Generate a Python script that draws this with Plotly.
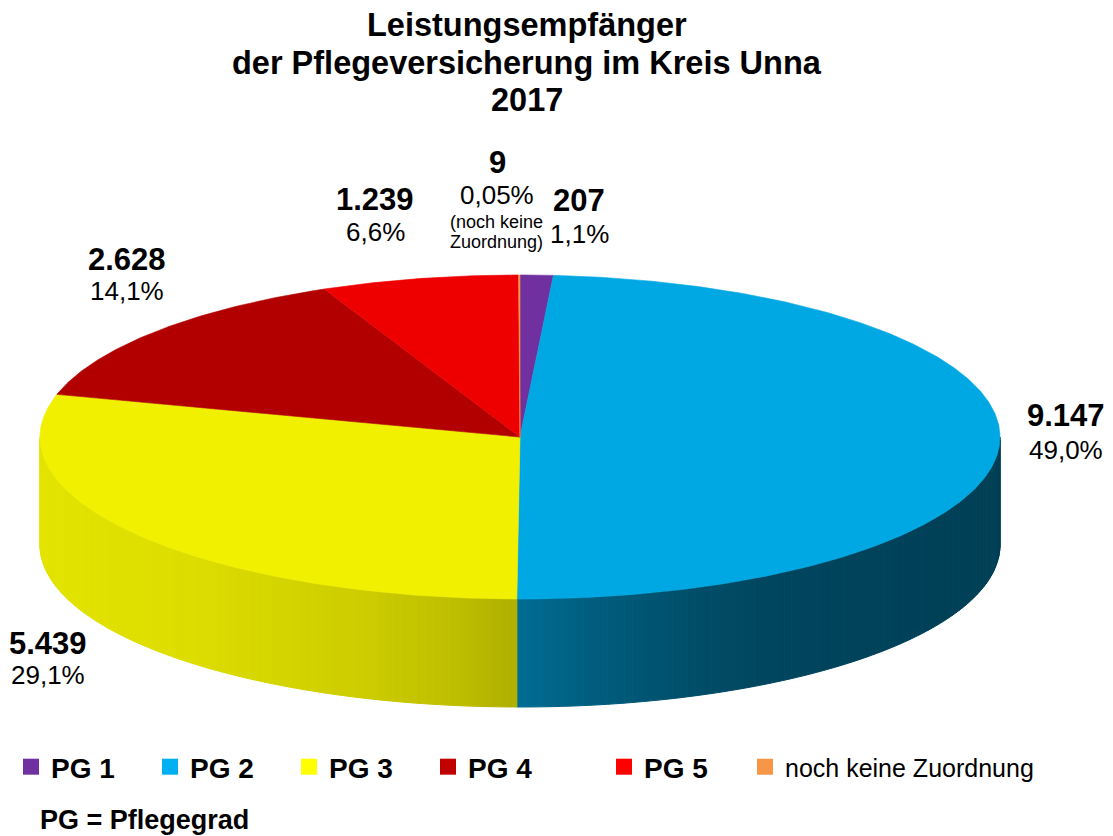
import numpy as np
import plotly.graph_objects as go

# ---------------- data ----------------
categories = ["PG 1", "PG 2", "PG 3", "PG 4", "PG 5", "noch keine Zuordnung"]
values = [207, 9147, 5439, 2628, 1239, 9]
value_labels = ["207", "9.147", "5.439", "2.628", "1.239", "9"]
percent_labels = ["1,1%", "49,0%", "29,1%", "14,1%", "6,6%", "0,05%"]
title_lines = ["Leistungsempfänger", "der Pflegeversicherung im Kreis Unna", "2017"]
footnote = "PG = Pflegegrad"
unassigned_note = ["(noch keine", "Zuordnung)"]

# ---------------- style ----------------
top_colors = ["#7030a0", "#00a8e3", "#f0f000", "#b20000", "#ee0000", "#f79646"]
legend_colors = ["#7030a0", "#00b0f0", "#ffff00", "#c00000", "#ff0000", "#f79646"]
FONT = "Arial, Liberation Sans, sans-serif"

W, H = 1113, 836
CX, CY, RX, RY, DEPTH = 520, 437, 480, 162, 108

# brightness of side wall as function of x position (lighting gradient)
shade_x = [40, 200, 350, 450, 517, 518, 600, 700, 760, 1000]
shade_f = [0.95, 0.92, 0.86, 0.80, 0.73, 0.65, 0.55, 0.46, 0.42, 0.38]

# label placement (pixel space)
label_pos = {
    0: (579, 200, 234),
    1: (1066, 415, 450),
    2: (48, 643, 675),
    3: (127, 259, 291),
    4: (375, 199, 232),
    5: (497, 162, 195),
}


def pt(theta_deg, dy=0.0):
    t = np.radians(theta_deg)
    return CX + RX * np.sin(t), CY - RY * np.cos(t) + dy


def hex_to_rgb(h):
    h = h.lstrip("#")
    return [int(h[i:i + 2], 16) for i in (0, 2, 4)]


def shaded(hexcol, x):
    f = float(np.interp(x, shade_x, shade_f))
    r, g, b = hex_to_rgb(hexcol)
    return "rgb(%d,%d,%d)" % (r * f, g * f, b * f)


total = float(sum(values))
bounds = np.concatenate([[0.0], np.cumsum(values) / total * 360.0])

fig = go.Figure()

# ---- side walls (visible front half: 90..270 degrees) ----
for i, c in enumerate(top_colors):
    a0, a1 = max(bounds[i], 90.0), min(bounds[i + 1], 270.0)
    if a1 <= a0:
        continue
    n = max(1, int(np.ceil((a1 - a0) / 1.0)))
    edges = np.linspace(a0, a1, n + 1)
    for s, e in zip(edges[:-1], edges[1:]):
        th = np.linspace(s, e, 4)
        xt, yt = pt(th)
        xb, yb = pt(th[::-1], DEPTH)
        xs = np.concatenate([xt, xb, xt[:1]])
        ys = np.concatenate([yt, yb, yt[:1]])
        col = shaded(c, float(np.mean(xt)))
        fig.add_trace(go.Scatter(
            x=xs, y=ys, mode="lines", fill="toself", fillcolor=col,
            line=dict(color=col, width=1), hoverinfo="skip", showlegend=False))

# ---- top faces ----
for i, c in enumerate(top_colors):
    a0, a1 = bounds[i], bounds[i + 1]
    n = max(2, int(np.ceil((a1 - a0) / 0.5)))
    th = np.linspace(a0, a1, n + 1)
    xa, ya = pt(th)
    xs = np.concatenate([[CX], xa, [CX]])
    ys = np.concatenate([[CY], ya, [CY]])
    fig.add_trace(go.Scatter(
        x=xs, y=ys, mode="lines", fill="toself", fillcolor=c,
        line=dict(color=c, width=0.6), hoverinfo="skip", showlegend=False,
        name=categories[i]))

# ---- legend entries (one legend each for exact placement) ----
legend_centers = [31, 170, 309, 448, 624, 765]
legend_layouts = {}
for i, (cat, c) in enumerate(zip(categories, legend_colors)):
    key = "legend" if i == 0 else "legend%d" % (i + 1)
    bold = cat.startswith("PG")
    fig.add_trace(go.Scatter(
        x=[None], y=[None], mode="markers",
        marker=dict(symbol="square", size=16, color=c),
        name=("<b>%s</b>" % cat) if bold else cat, legend=key,
        showlegend=True, hoverinfo="skip"))
    legend_layouts[key] = dict(
        x=(legend_centers[i] - 20) / W, xanchor="left",
        y=1 - 767 / H, yanchor="middle",
        bgcolor="rgba(0,0,0,0)", borderwidth=0,
        font=dict(family=FONT, size=28 if bold else 25, color="#000000"),
        itemsizing="trace", tracegroupgap=0,
    )

# ---- annotations ----
ann = []
for i, ty in enumerate([25, 63, 100]):
    ann.append(dict(x=527, y=ty, xref="x", yref="y", text="<b>%s</b>" % title_lines[i],
                    showarrow=False, xanchor="center", yanchor="middle",
                    font=dict(family=FONT, size=32.5, color="#000000")))

for i in range(len(values)):
    x, yv, yp = label_pos[i]
    ann.append(dict(x=x, y=yv, xref="x", yref="y", text="<b>%s</b>" % value_labels[i],
                    showarrow=False, xanchor="center", yanchor="middle",
                    font=dict(family=FONT, size=31, color="#000000")))
    ann.append(dict(x=x, y=yp, xref="x", yref="y", text=percent_labels[i],
                    showarrow=False, xanchor="center", yanchor="middle",
                    font=dict(family=FONT, size=26, color="#000000")))

for line, yy in zip(unassigned_note, [222, 242]):
    ann.append(dict(x=496, y=yy, xref="x", yref="y", text=line,
                    showarrow=False, xanchor="center", yanchor="middle",
                    font=dict(family=FONT, size=18, color="#000000")))

ann.append(dict(x=38, y=820, xref="x", yref="y", text="<b>%s</b>" % footnote,
                showarrow=False, xanchor="left", yanchor="middle",
                font=dict(family=FONT, size=27, color="#000000")))

fig.update_layout(
    width=W, height=H, autosize=False,
    margin=dict(l=0, r=0, t=0, b=0),
    paper_bgcolor="white", plot_bgcolor="white",
    xaxis=dict(range=[0, W], visible=False, fixedrange=True),
    yaxis=dict(range=[H, 0], visible=False, fixedrange=True),
    annotations=ann,
    showlegend=True,
    **legend_layouts,
)

fig.write_html("out.html", config={"displayModeBar": False},
               post_script="document.body.style.margin='0px';")
